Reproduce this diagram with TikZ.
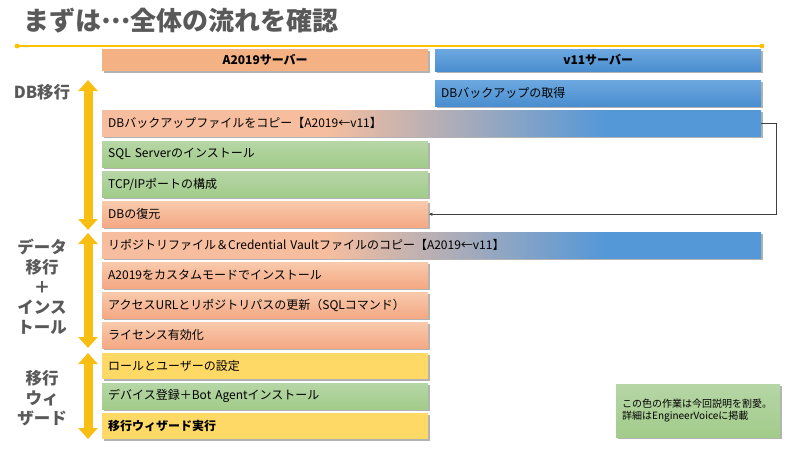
\documentclass[tikz,border=0pt]{standalone}
\usepackage{fontspec}
\setmainfont{Noto Sans CJK JP}
\usetikzlibrary{arrows.meta,shadows}

\definecolor{titlegray}{HTML}{595959}
\definecolor{rulegold}{HTML}{FFC000}
\definecolor{phasegold}{HTML}{F9BE12}
\definecolor{salmonhead}{HTML}{F4B183}
\definecolor{salmontop}{HTML}{F8CAAC}
\definecolor{salmonbot}{HTML}{F4A884}
\definecolor{salmonmid}{HTML}{F6BE9E}
\definecolor{bluetop}{HTML}{6CA8E0}
\definecolor{bluebot}{HTML}{4A8ECF}
\definecolor{bluemid}{HTML}{5598D8}
\definecolor{greentop}{HTML}{B6D6A6}
\definecolor{greenbot}{HTML}{A2CC8A}
\definecolor{yellowbox}{HTML}{FFD966}
\definecolor{linkgray}{HTML}{404040}

\pgfdeclarehorizontalshading{copyshade}{100bp}{color(0bp)=(salmonmid); color(42bp)=(salmonmid); color(63bp)=(bluemid); color(100bp)=(bluemid)}

\tikzset{
	boxshadow/.style={drop shadow={shadow xshift=1.6pt,shadow yshift=-1.6pt,fill=black,opacity=0.3}},
	head/.style={anchor=north west,minimum width=326pt,minimum height=22pt,inner sep=0pt,
		font=\bfseries\fontsize{12}{14}\selectfont,boxshadow},
	task/.style={anchor=north west,minimum height=26pt,inner xsep=6pt,inner ysep=0pt,
		text width=314pt,align=left,font=\fontsize{12}{14}\selectfont,boxshadow},
	widetask/.style={task,text width=647pt,shading=copyshade},
	salmonfill/.style={top color=salmontop,bottom color=salmonbot},
	bluefill/.style={top color=bluetop,bottom color=bluebot},
	greenfill/.style={top color=greentop,bottom color=greenbot},
	yellowfill/.style={fill=yellowbox},
	phase/.style={line width=9pt,draw=phasegold,
		{Triangle[width=19pt,length=11pt]}-{Triangle[width=19pt,length=11pt]}},
	phaselabel/.style={align=center,text=titlegray,font=\bfseries\fontsize{16.5}{20}\selectfont},
	link/.style={draw=linkgray,line width=0.8pt,-{Latex[length=4pt,width=3.5pt]}},
	note/.style={anchor=north west,minimum width=164pt,minimum height=53pt,inner xsep=6pt,
		text width=152pt,align=left,font=\fontsize{10}{12}\selectfont,greenfill,boxshadow}
}

\begin{document}
\begin{tikzpicture}[x=1pt,y=-1pt]
	\useasboundingbox (0,0) rectangle (800,450);

	% title and rule
	\node[anchor=west,inner sep=0pt,text=titlegray,font=\bfseries\fontsize{26}{30}\selectfont] (title) at (23,21) {まずは\raisebox{.3em}{…}全体の流れを確認};
	\coordinate (rulel) at (17,46);
	\coordinate (ruler) at (762,46);
	\draw[rulegold,line width=1.4pt] (rulel) -- (ruler);
	\fill[rulegold] (rulel) circle (2.4pt) (ruler) circle (2.4pt);

	% servers
	\node[head,fill=salmonhead] (hdra) at (102,49) {A2019サーバー};
	\node[head,bluefill] (hdrv) at (435,49) {v11サーバー};

	% DB
	\node[task,bluefill] (getbk) at (435,80) {DBバックアップの取得};
	\node[widetask] (copybk) at (102,110) {DBバックアップファイルをコピー【A2019←v11】};
	\node[task,greenfill] (sqlsv) at (102,141) {SQL Serverのインストール};
	\node[task,greenfill] (tcpip) at (102,171) {TCP/IPポートの構成};
	\node[task,salmonfill] (restore) at (102,201) {DBの復元};
	\draw[link] (copybk.east) -- ++(15,0) |- (restore.east);

	% data + install
	\node[widetask] (copyrepo) at (102,232) {リポジトリファイル＆Credential Vaultファイルのコピー【A2019←v11】};
	\node[task,salmonfill] (install) at (102,262) {A2019をカスタムモードでインストール};
	\node[task,salmonfill] (urlupd) at (102,292) {アクセスURLとリポジトリパスの更新（SQLコマンド）};
	\node[task,salmonfill] (license) at (102,322) {ライセンス有効化};

	% wizard
	\node[task,yellowfill] (roles) at (102,353) {ロールとユーザーの設定};
	\node[task,greenfill] (device) at (102,383) {デバイス登録＋Bot Agentインストール};
	\node[task,yellowfill,font=\bfseries\fontsize{12}{14}\selectfont] (wizard) at (102,413) {移行ウィザード実行};

	% phases
	\coordinate (dbtop) at (88,80);
	\coordinate (dbbot) at (88,230);
	\coordinate (datatop) at (88,233);
	\coordinate (databot) at (88,348);
	\coordinate (wiztop) at (88,353);
	\coordinate (wizbot) at (88,439);
	\draw[phase] (dbtop) -- (dbbot);
	\draw[phase] (datatop) -- (databot);
	\draw[phase] (wiztop) -- (wizbot);
	\node[phaselabel] (lbdb) at (42,92) {DB移行};
	\node[phaselabel] (lbdata) at (42,287) {データ\\移行\\＋\\インス\\トール};
	\node[phaselabel] (lbwiz) at (42,398) {移行\\ウィ\\ザード};

	% legend
	\node[note] (legend) at (616,384) {この色の作業は今回説明を割愛。\\詳細はEngineerVoiceに掲載};
\end{tikzpicture}
\end{document}
